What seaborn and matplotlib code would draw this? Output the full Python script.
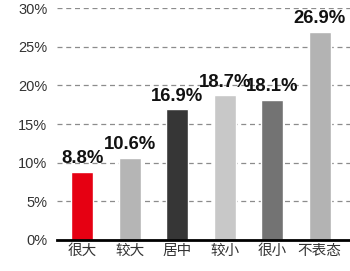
import matplotlib
matplotlib.use("Agg")
import matplotlib.pyplot as plt
import seaborn as sns
import pandas as pd

categories = ["很大", "较大", "居中", "较小", "很小", "不表态"]
values = [8.8, 10.6, 16.9, 18.7, 18.1, 26.9]
colors = ["#e60012", "#b5b5b5", "#363636", "#c8c8c8", "#737373", "#b3b3b3"]
yticks = [0, 5, 10, 15, 20, 25, 30]
ytick_labels = ["0%", "5%", "10%", "15%", "20%", "25%", "30%"]

sns.set_theme(style="white")
plt.rcParams["font.family"] = ["Liberation Sans", "Noto Sans CJK SC", "DejaVu Sans"]

df = pd.DataFrame({"cat": categories, "val": values})

fig = plt.figure(figsize=(3.5, 2.71), dpi=100)
ax = fig.add_axes([0.163, 0.1144, 0.837, 0.856])

sns.barplot(data=df, x="cat", y="val", hue="cat", palette=colors, legend=False,
            width=0.46, ax=ax, saturation=1, zorder=3)

ax.set_ylim(0, 30)
ax.set_xlim(-0.53, 5.64)
ax.set_yticks(yticks)
ax.set_yticklabels(ytick_labels, fontsize=10.5, color="#333333")
ax.set_xlabel("")
ax.set_ylabel("")
for t in ax.get_xticklabels():
    t.set_fontfamily(["Noto Sans CJK SC", "DejaVu Sans"])
    t.set_fontsize(10.5)
    t.set_color("#333333")
ax.tick_params(axis="y", length=0, pad=7)
ax.tick_params(axis="x", length=0, pad=3)

for y in yticks[1:]:
    ax.axhline(y, color="#8c8c8c", linestyle=(0, (4, 3)), linewidth=0.9, zorder=1)

for s in ["top", "right", "left"]:
    ax.spines[s].set_visible(False)
ax.spines["bottom"].set_color("black")
ax.spines["bottom"].set_linewidth(2)
ax.spines["bottom"].set_zorder(5)

for i, v in enumerate(values):
    ax.text(i, v + 0.6, f"{v}%", ha="center", va="bottom", fontsize=13.3,
            fontweight="bold", color="#111111", zorder=6)

fig.savefig("out.png", dpi=100)
